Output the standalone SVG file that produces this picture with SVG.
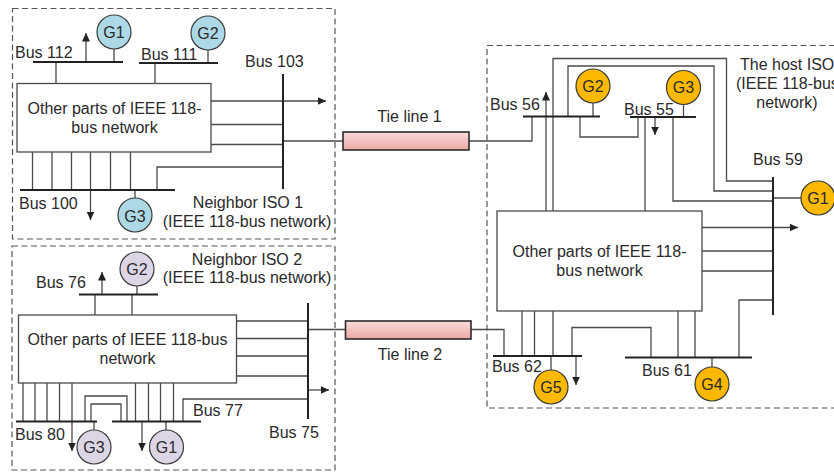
<svg xmlns="http://www.w3.org/2000/svg" width="834" height="473" viewBox="0 0 834 473">
<style>
text{font-family:"Liberation Sans",Arial,sans-serif;font-size:16px;fill:#2a2a2a}
.m{text-anchor:middle}
.c{fill:none;stroke:#4a4a4a;stroke-width:1.3}
.b{fill:none;stroke:#222;stroke-width:2}
.zone{fill:none;stroke:#555;stroke-width:1.2;stroke-dasharray:6 3.5}
.box{fill:#fff;stroke:#4a4a4a;stroke-width:1.3}
.tie{fill:url(#tg);stroke:#2a2a2a;stroke-width:1.6}
.gb{stroke:#3a3a3a;stroke-width:1.2;fill:#add8e6}
.gp{stroke:#3a3a3a;stroke-width:1.2;fill:#dcd5e6}
.gy{stroke:#3a3a3a;stroke-width:1.2;fill:#fdb900}
</style>
<defs>
<linearGradient id="tg" x1="0" y1="0" x2="0" y2="1"><stop offset="0" stop-color="#fadcd9"/><stop offset="1" stop-color="#eba8a4"/></linearGradient>
<marker id="a" markerUnits="userSpaceOnUse" markerWidth="9" markerHeight="9" refX="8.5" refY="4" orient="auto"><path d="M0 0L8.500 4L0 8Z" fill="#222"/></marker>
</defs>
<rect class="zone" x="12.5" y="8.500" width="322.500" height="230.500"/>
<rect class="zone" x="12" y="246" width="323" height="224"/>
<rect class="zone" x="487" y="45.500" width="350" height="362.500"/>
<g id="connectors">
<path class="c" d="M56 62V83.500M155 63V83.500M114 49V62M208 50V63"/>
<path class="c" marker-end="url(#a)" d="M86 62V33"/>
<path class="c" marker-end="url(#a)" d="M211 101H326"/>
<path class="c" d="M211 124.500H283M211 144.500H283M283 141H343"/>
<path class="c" d="M32.500 152V190M52 152V190M71.500 152V190M110.500 152V190M130.500 152V190M135 190V198M157 190V167H283"/>
<path class="c" marker-end="url(#a)" d="M90.500 152V220"/>
<path class="c" d="M95 294.500V315M132 294.500V315M137 286V294.500"/>
<path class="c" marker-end="url(#a)" d="M102 294.500V272"/>
<path class="c" d="M236.500 321H308M236.500 338.500H308M236.500 356H308M236.500 376H308M308 329.500H345M183 421.500V399H308"/>
<path class="c" marker-end="url(#a)" d="M308 390H329"/>
<path class="c" d="M23 383V421.500M35 383V421.500M47 383V421.500M59.500 383V421.500M135.500 383V421.500M148.500 383V421.500M160.500 383V421.500M173.500 383V421.500M85 421.500V396H127V421.500M91 421.500V404H121V421.500M94 421.500V430M166 421.500V430"/>
<path class="c" marker-end="url(#a)" d="M72 383V451"/>
<path class="c" marker-end="url(#a)" d="M142 421.500V451"/>
<path class="c" d="M469 141H532V116.500M553 211V58.500H726.500V181H773M568 116.500V66H714V191H773M593 103V116.500M580 116.500V137H638V117M645 117V211M673 117V201H773M683.500 104V117M773 198H801"/>
<path class="c" marker-end="url(#a)" d="M546 211V92"/>
<path class="c" marker-end="url(#a)" d="M655 117V135"/>
<path class="c" marker-end="url(#a)" d="M702 227.500H798"/>
<path class="c" d="M702 251H773M702 271H773M739 357.500V300H773"/>
<path class="c" d="M522 311V356M534.500 311V356M553 311V356M471 329.500H504V356M551 356V370M572 356V327.500H651V357.500M678 311V357.500M695 311V357.500M712 357.500V367"/>
<path class="c" marker-end="url(#a)" d="M576 356V385"/>
</g>
<g id="bus112"><path class="b" d="M33 62H123"/><text x="15" y="57.500">Bus 112</text></g>
<g id="bus111"><path class="b" d="M139 63H218"/><text x="141" y="60">Bus 111</text></g>
<g id="bus103"><path class="b" d="M283 74V189"/><text x="245" y="67">Bus 103</text></g>
<g id="bus100"><path class="b" d="M20 190H175"/><text x="19" y="209">Bus 100</text></g>
<g id="bus76"><path class="b" d="M79 294.500H158"/><text x="36" y="288">Bus 76</text></g>
<g id="bus75"><path class="b" d="M308 303V419"/><text x="269" y="438">Bus 75</text></g>
<g id="bus80"><path class="b" d="M16 421.500H97"/><text x="15" y="440">Bus 80</text></g>
<g id="bus77"><path class="b" d="M112 421.500H201"/><text x="193" y="416">Bus 77</text></g>
<g id="bus56"><path class="b" d="M523 116.500H600"/><text x="490" y="110">Bus 56</text></g>
<g id="bus55"><path class="b" d="M630 117H696"/><text x="624" y="115">Bus 55</text></g>
<g id="bus59"><path class="b" d="M773 177V315"/><text x="753" y="165">Bus 59</text></g>
<g id="bus62"><path class="b" d="M493 356H582"/><text x="492" y="372">Bus 62</text></g>
<g id="bus61"><path class="b" d="M625 357.500H752"/><text x="642" y="376">Bus 61</text></g>
<g id="n1-net"><rect class="box" x="17" y="83.500" width="194" height="68.500"/><text class="m" x="114.500" y="114">Other parts of IEEE 118-</text><text class="m" x="114.500" y="133">bus network</text></g>
<g id="n2-net"><rect class="box" x="18.500" y="315" width="218" height="68"/><text class="m" x="127.500" y="345">Other parts of IEEE 118-bus</text><text class="m" x="127.500" y="364">network</text></g>
<g id="host-net"><rect class="box" x="497" y="211" width="205" height="100"/><text class="m" x="599.500" y="257">Other parts of IEEE 118-</text><text class="m" x="599.500" y="276">bus network</text></g>
<g id="tie1"><rect class="tie" x="343" y="132" width="126" height="18"/><text class="m" x="409.500" y="122">Tie line 1</text></g>
<g id="tie2"><rect class="tie" x="345.500" y="321" width="125.500" height="18"/><text class="m" x="410" y="360">Tie line 2</text></g>
<g id="n1-g1"><circle class="gb" cx="114" cy="32" r="17"/><text class="m" x="114" y="38">G1</text></g>
<g id="n1-g2"><circle class="gb" cx="208" cy="33" r="17"/><text class="m" x="208" y="39">G2</text></g>
<g id="n1-g3"><circle class="gb" cx="135" cy="215" r="17"/><text class="m" x="135" y="222">G3</text></g>
<g id="n2-g2"><circle class="gp" cx="137" cy="269" r="17"/><text class="m" x="137" y="275">G2</text></g>
<g id="n2-g3"><circle class="gp" cx="94" cy="447" r="17"/><text class="m" x="94" y="453">G3</text></g>
<g id="n2-g1"><circle class="gp" cx="166.500" cy="447" r="17"/><text class="m" x="166.500" y="453">G1</text></g>
<g id="h-g2"><circle class="gy" cx="593" cy="86" r="17"/><text class="m" x="593" y="92">G2</text></g>
<g id="h-g3"><circle class="gy" cx="683.500" cy="87.500" r="17"/><text class="m" x="683.500" y="93">G3</text></g>
<g id="h-g1"><circle class="gy" cx="818" cy="198" r="17"/><text class="m" x="818" y="204">G1</text></g>
<g id="h-g5"><circle class="gy" cx="551" cy="387" r="17"/><text class="m" x="551" y="393">G5</text></g>
<g id="h-g4"><circle class="gy" cx="712" cy="384" r="17"/><text class="m" x="712" y="390">G4</text></g>
<g id="labels">
<text class="m" x="248" y="208">Neighbor ISO 1</text>
<text class="m" x="247" y="227">(IEEE 118-bus network)</text>
<text class="m" x="247" y="265">Neighbor ISO 2</text>
<text class="m" x="247" y="283">(IEEE 118-bus network)</text>
<text x="740" y="70">The host ISO</text>
<text x="736" y="89">(IEEE 118-bus</text>
<text class="m" x="787" y="108">network)</text>
</g>
</svg>
